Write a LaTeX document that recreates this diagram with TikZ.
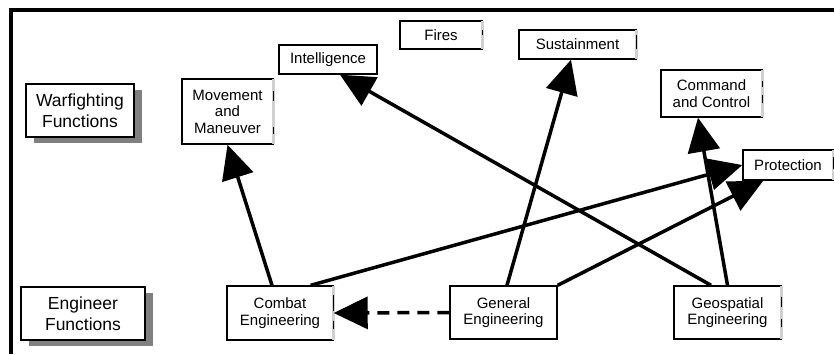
\documentclass[tikz,border=0pt]{standalone}
\usepackage{fontspec}
\setmainfont{Liberation Sans}
\usetikzlibrary{arrows.meta,calc}

\tikzset{
  fbox/.style={draw=black, line width=1.4pt, fill=white, align=center,
    inner sep=0pt, font=\fontsize{15}{16.5}\selectfont},
  headbox/.style={fbox, font=\fontsize{17.5}{20.5}\selectfont},
  shade/.style={fill=black!50, draw=none},
  link/.style={line width=3.5pt, -{Triangle[length=34pt,width=32pt]}},
  weaklink/.style={link, dash pattern=on 12pt off 8pt},
  rightedge/.style={draw=black!18, line width=2.5pt},
  tick/.style={draw=black, line width=1.2pt},
}

% place a box by its centre, width and height
\newcommand{\funcbox}[6][fbox]{%
  \node[#1, minimum width=#5pt, minimum height=#6pt] (#2) at (#3) {#4};}

\begin{document}
\begin{tikzpicture}[x=1pt,y=-1pt]
\useasboundingbox (0,0) rectangle (834,354);
\fill[white] (0,0) rectangle (834,354);

% outer frame (open at right and bottom)
\draw[line width=3.5pt] (11,9.8) -- (834,9.8);
\draw[line width=3.5pt] (11,8) -- (11,354);

% row headings with drop shadows
\fill[shade] (34,90) rectangle (142,143);
\funcbox[headbox]{warf}{80,110.5}{Warfighting\\Functions}{108}{53}
\fill[shade] (29,293) rectangle (153,346);
\funcbox[headbox]{engf}{83,313.5}{Engineer\\Functions}{124}{53}

% warfighting functions
\funcbox{move}{227.5,111.5}{Movement\\and\\Maneuver}{91}{65}
\funcbox{intel}{328,59.5}{Intelligence}{98}{29}
\funcbox{fires}{441,35}{Fires}{82}{28}
\funcbox{sust}{577.5,44.5}{Sustainment}{117}{29}
\funcbox{ctrl}{711.5,93.5}{Command\\and Control}{101}{47}
\funcbox{prot}{788,165}{Protection}{90}{30}

% engineer functions
\funcbox{combat}{280,313}{Combat\\Engineering}{106}{54}
\funcbox{general}{503.5,312.5}{General\\Engineering}{107}{53}
\funcbox{geo}{727.5,312.5}{Geospatial\\Engineering}{107}{53}

% pale right edges with small marks
\foreach \n in {move,fires,sust,ctrl,prot,combat,geo}{
  \draw[rightedge] ([yshift=-1pt]\n.north east) -- ([yshift=1pt]\n.south east);
}
\draw[tick] ($(move.north east)+(0,13)$) -- +(0,10);
\draw[tick] ($(move.north east)+(0,49)$) -- +(0,7);
\draw[tick] ($(fires.north east)+(0,10)$) -- +(0,5);
\draw[tick] ($(sust.north east)+(0,6)$) -- +(0,14);
\draw[tick] ($(ctrl.north east)+(0,12)$) -- +(0,6);
\draw[tick] ($(ctrl.north east)+(0,26)$) -- +(0,8);
\draw[tick] ($(prot.north east)+(0,8)$) -- +(0,12);
\draw[tick] ($(combat.north east)+(0,10)$) -- +(0,16);
\draw[tick] ($(combat.north east)+(0,36)$) -- +(0,8);
\draw[tick] ($(geo.north east)+(0,12)$) -- +(0,10);
\draw[tick] ($(geo.north east)+(0,34)$) -- +(0,8);

% support relations
\draw[link] ([xshift=-8pt]combat.north) -- (move.south);
\draw[link] ([xshift=-23pt]combat.north east) -- (prot.west);
\draw[link] ([xshift=3.5pt]general.north) -- ([xshift=-6.5pt]sust.south);
\draw[link] (general.north east) -- ([xshift=21pt]prot.south west);
\draw[link] ([xshift=-16.5pt]geo.north) -- ([xshift=12pt]intel.south);
\draw[link] (geo.north) -- ([xshift=-13.5pt]ctrl.south);
\draw[weaklink] (general.west) -- (combat.east);
\end{tikzpicture}
\end{document}
